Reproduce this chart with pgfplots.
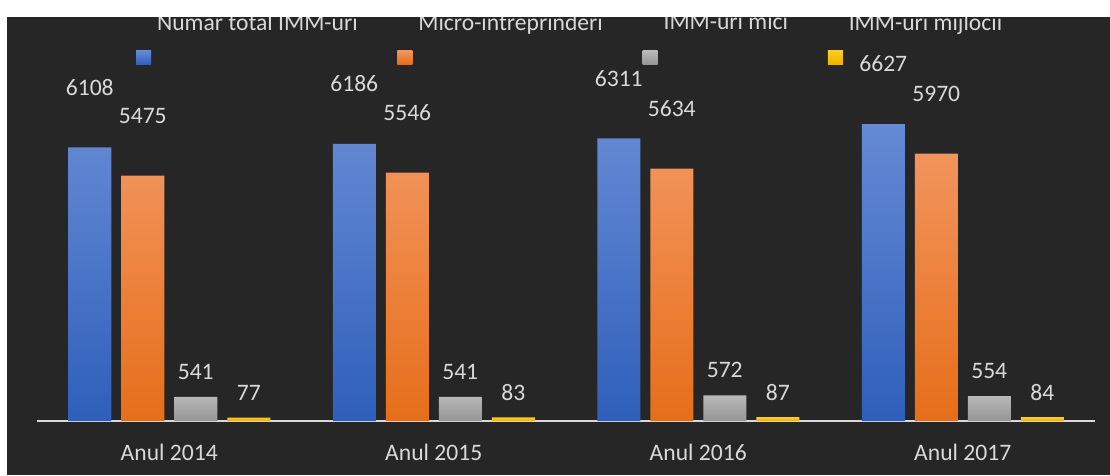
\documentclass[border=0pt]{standalone}
\usepackage{pgfplots}
\pgfplotsset{compat=1.18}
\usepackage{fontspec}
\setmainfont{Carlito}

\definecolor{bg}{HTML}{262626}
\definecolor{txt}{HTML}{D9D9D9}
\definecolor{blueT}{HTML}{658AD4}
\definecolor{blueB}{HTML}{2F5FBA}
\definecolor{orT}{HTML}{F2945C}
\definecolor{orB}{HTML}{E66E1A}
\definecolor{grT}{HTML}{B9B9B9}
\definecolor{grB}{HTML}{959595}
\definecolor{yeT}{HTML}{FFCC22}
\definecolor{yeB}{HTML}{F0B000}

\newcommand\lblfont{\fontsize{17.7}{21}\selectfont}

\begin{document}
\begin{tikzpicture}
\fill[white] (0pt,0pt) rectangle (832.5pt,356.25pt);
\fill[bg] (5.25pt,0pt) rectangle (832.5pt,343.5pt);
\begin{axis}[
  at={(27.75pt,40.5pt)}, anchor=south west,
  width=793.5pt, height=268.8pt, scale only axis,
  xmin=-0.5, xmax=3.5, ymin=0, ymax=8000,
  axis y line=none, axis x line=bottom,
  x axis line style={-, draw=txt, line width=1.5pt},
  xtick={0,1,2,3},
  xticklabels={Anul 2014,Anul 2015,Anul 2016,Anul 2017},
  major tick length=0pt,
  xticklabel style={font=\lblfont, text=txt, inner sep=0pt, yshift=-17pt},
  ybar=7.5pt, bar width=32.25pt,
  /pgf/number format/1000 sep={},
  /pgf/number format/assume math mode=true,
  nodes near coords,
  every node near coord/.append style={font=\lblfont, text=txt, anchor=center},
  legend columns=4,
  legend cell align=left,
  legend style={draw=none, fill=none, at={(axis description cs:0.0936,1.1366)},
    anchor=north west, inner sep=0pt, outer sep=0pt, font=\lblfont, text=txt,
    nodes={inner sep=0pt},
    /tikz/every odd column/.append style={column sep=4.5pt},
    /tikz/every even column/.append style={column sep=29.75pt}},
  legend image code/.code={
    \path (0pt,0pt) rectangle (11.25pt,0pt);
    \fill[#1, draw=none, overlay] (0pt,-31pt) rectangle (11.25pt,-21pt);},
]
\addplot[draw=none, top color=blueT, bottom color=blueB,
  every node near coord/.append style={yshift=45pt}]
  coordinates {(0,6108) (1,6186) (2,6311) (3,6627)};
\addplot[draw=none, top color=orT, bottom color=orB,
  every node near coord/.append style={yshift=45pt}]
  coordinates {(0,5475) (1,5546) (2,5634) (3,5970)};
\addplot[draw=none, top color=grT, bottom color=grB,
  every node near coord/.append style={yshift=18.75pt}]
  coordinates {(0,541) (1,541) (2,572) (3,554)};
\addplot[draw=none, top color=yeT, bottom color=yeB,
  every node near coord/.append style={yshift=18.75pt}]
  coordinates {(0,77) (1,83) (2,87) (3,84)};
\legend{Număr total IMM-uri, Micro-întreprinderi, IMM-uri mici, IMM-uri mijlocii}
\end{axis}
\fill[white] (0pt,343.5pt) rectangle (832.5pt,356.25pt);
\fill[white] (0pt,0pt) rectangle (5.25pt,356.25pt);
\end{tikzpicture}
\end{document}
